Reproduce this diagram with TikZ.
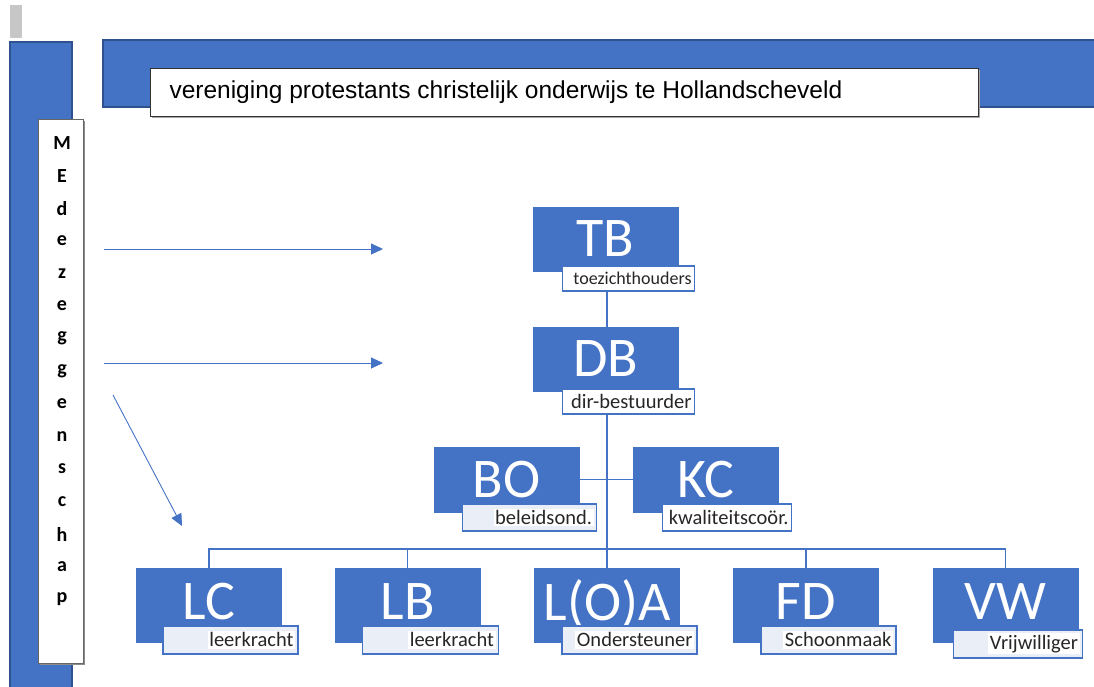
\documentclass[tikz,border=0pt]{standalone}
\usepackage{fontspec}
\setmainfont{Carlito}
\newfontfamily\titlefont{Liberation Sans}
\usetikzlibrary{arrows.meta,calc}
\definecolor{ofblue}{HTML}{4472C4}
\definecolor{ofdark}{HTML}{2F528F}
\definecolor{labfill}{HTML}{EAEEF7}
\definecolor{labtext}{HTML}{262626}
\newcommand{\labtxt}[1]{{\setlength{\fboxsep}{1.5pt}\colorbox{white}{#1}}}

\begin{document}
\begin{tikzpicture}[x=1pt,y=-1pt,
  unit/.style={fill=ofblue,draw=ofblue,minimum width=145pt,inner sep=0pt,
    text=white,font=\fontsize{56}{56}\selectfont},
  unitlabel/.style={draw=ofblue,line width=1.3pt,fill=white,inner ysep=0pt,inner xsep=3pt,
    text width=#1,minimum height=27pt,align=right,text=labtext,font=\fontsize{20.5}{20.5}\selectfont},
  conn/.style={ofblue,line width=1.6pt},
  side/.style={ofblue,line width=0.9pt,-{Triangle[length=12pt,width=11pt]}}]
  \useasboundingbox (0,0) rectangle (1094,687);
  % background bars
  \fill[black!22] (10,5) rectangle (22,38);
  \draw[ofdark,fill=ofblue,line width=1.2pt] (10,42) rectangle (72,700);
  \draw[ofdark,fill=ofblue,line width=1.2pt] (103,40) rectangle (1100,107);
  \fill[black!35] (152,70) rectangle (980,118);
  \draw[black!80,fill=white,line width=0.8pt] (150,68) rectangle (978,116);
  \node[anchor=west,font=\titlefont\fontsize{24.5}{24.5}\selectfont] (title) at (166,92)
    {vereniging protestants christelijk onderwijs te Hollandscheveld};
  % vertical word
  \fill[black!45] (40,121) rectangle (85,665);
  \draw[black!60,fill=white,line width=0.6pt] (38,119) rectangle (83,663);
  \foreach \ch [count=\i from 0] in {M,E,d,e,z,e,g,g,e,n,s,c,h,a,p}
    \node[font=\bfseries\fontsize{20}{20}\selectfont] (ch\i) at (62,143+32.6*\i) {\ch};
  % arrows
  \coordinate (a1s) at (104,249); \coordinate (a1e) at (383,249);
  \coordinate (a2s) at (104,363); \coordinate (a2e) at (383,363);
  \coordinate (a3s) at (113,395); \coordinate (a3e) at (182,526);
  \draw[side] (a1s) -- (a1e);
  \draw[side] (a2s) -- (a2e);
  \draw[side] (a3s) -- (a3e);
  % units
  \node[unit,minimum height=64pt] (TB) at (605.5,239) {TB};
  \node[unit,minimum height=64pt] (DB) at (605.5,359) {DB};
  \node[unit,minimum height=65pt] (BO) at (506.5,479.5) {BO};
  \node[unit,minimum height=65pt] (KC) at (705.5,479.5) {KC};
  \node[unit,minimum height=74pt] (LC) at (209,605) {\raisebox{7pt}{LC}};
  \node[unit,minimum height=74pt] (LB) at (407.5,605) {\raisebox{7pt}{LB}};
  \node[unit,minimum height=74pt] (LOA) at (607,605) {\raisebox{9pt}{L(O)A}};
  \node[unit,minimum height=74pt] (FD) at (806,605) {\raisebox{7pt}{FD}};
  \node[unit,minimum height=74pt] (VW) at (1005.5,605) {\raisebox{7pt}{VW}};
  % labels
  \node[unitlabel=126pt,minimum height=25pt,font=\fontsize{18}{18}\selectfont,anchor=north east] (TBl)
    at ([xshift=17pt,yshift=6pt]TB.south east) {toezichthouders};
  \node[unitlabel=126pt,minimum height=25pt,anchor=north east] (DBl)
    at ([xshift=17pt,yshift=3pt]DB.south east) {dir-bestuurder};
  \node[unitlabel=128pt,fill=labfill,anchor=north east] (BOl)
    at ([xshift=18pt,yshift=9pt]BO.south east) {\labtxt{beleidsond.}};
  \node[unitlabel=123pt,anchor=north east] (KCl)
    at ([xshift=14pt,yshift=9pt]KC.south east) {kwaliteitscoör.};
  \node[unitlabel=129pt,minimum height=28pt,fill=labfill,anchor=north east] (LCl)
    at ([xshift=17pt,yshift=17pt]LC.south east) {\labtxt{leerkracht}};
  \node[unitlabel=130pt,minimum height=28pt,fill=labfill,anchor=north east] (LBl)
    at ([xshift=19pt,yshift=17pt]LB.south east) {\labtxt{leerkracht}};
  \node[unitlabel=129pt,minimum height=28pt,fill=labfill,anchor=north east] (LOAl)
    at ([xshift=18pt,yshift=17pt]LOA.south east) {\labtxt{Ondersteuner}};
  \node[unitlabel=129pt,minimum height=28pt,fill=labfill,anchor=north east] (FDl)
    at ([xshift=18pt,yshift=17pt]FD.south east) {\labtxt{Schoonmaak}};
  \node[unitlabel=123pt,minimum height=28pt,fill=labfill,anchor=north east] (VWl)
    at ([xshift=5pt,yshift=13pt]VW.south east) {\labtxt{Vrijwilliger}};
  % connectors
  \coordinate (bus) at (607,549);
  \draw[conn] (LOA.north |- TBl.south) -- (LOA.north |- DB.north);
  \draw[conn] (LOA.north |- DBl.south) -- (LOA.north);
  \draw[conn] (BO.east) -- (KC.west);
  \draw[conn] (LC.north) -- (LC.north |- bus) -- (VW.north |- bus) -- (VW.north);
  \draw[conn] (LB.north) -- (LB.north |- bus);
  \draw[conn] (FD.north) -- (FD.north |- bus);
\end{tikzpicture}
\end{document}
